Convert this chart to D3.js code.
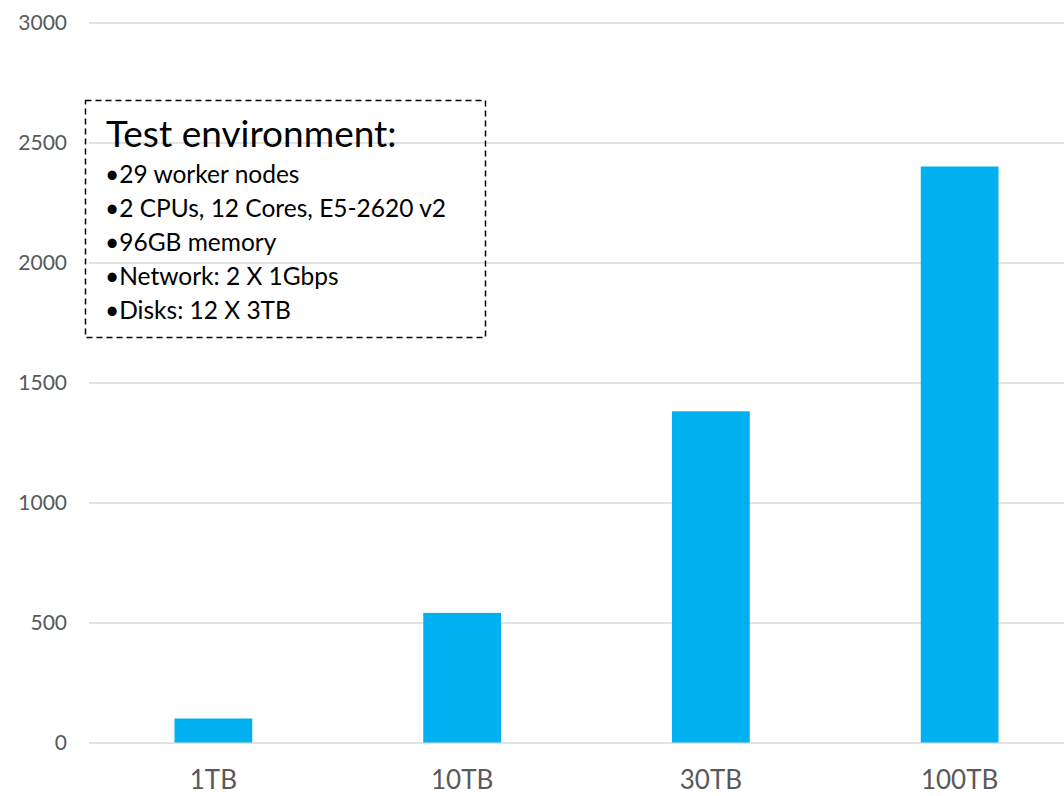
<!DOCTYPE html>
<html>
<head>
<meta charset="utf-8">
<script src="https://cdn.jsdelivr.net/npm/d3@7"></script>
<style>
  body { margin: 0; background: #fff; }
  svg { display: block; font-family: Lato, "Open Sans", sans-serif; }
</style>
</head>
<body>
<svg id="chart" width="1064" height="796"></svg>
<script>
// chart data
const categories = ["1TB", "10TB", "30TB", "100TB"];
const values = [100, 540, 1380, 2400];
const yTicks = [0, 500, 1000, 1500, 2000, 2500, 3000];
const boxTitle = "Test environment:";
const boxLines = [
    "•29 worker nodes",
    "•2 CPUs, 12 Cores, E5-2620 v2",
    "•96GB memory",
    "•Network: 2 X 1Gbps",
    "•Disks: 12 X 3TB"
];

const svg = d3.select("#chart");

// scales (plot runs a bit past the right edge, as in the original)
const x = d3.scaleBand()
    .domain(categories)
    .range([89, 1084])
    .paddingInner(0.6875)
    .paddingOuter(0.34375);

const y = d3.scaleLinear()
    .domain([0, 3000])
    .range([742.5, 22.5]);

// gridlines + y labels
const yAxis = svg.append("g")
    .attr("transform", "translate(89,0)")
    .call(d3.axisLeft(y).tickValues(yTicks).tickSize(-1000).tickPadding(22).tickFormat(d3.format("d")));
yAxis.select(".domain").remove();
yAxis.selectAll(".tick line").attr("stroke", "#d9d9d9").attr("stroke-width", 1.4);
yAxis.selectAll(".tick text")
    .attr("fill", "#595959")
    .attr("font-size", 21)
    .attr("font-family", "Lato, sans-serif");

// bars
svg.selectAll(".bar")
    .data(values)
    .enter().append("rect")
    .attr("class", "bar")
    .attr("x", (d, i) => x(categories[i]))
    .attr("y", d => y(d))
    .attr("width", x.bandwidth())
    .attr("height", d => y(0) - y(d))
    .attr("fill", "#00b0f0");

// x labels
const xAxis = svg.append("g")
    .attr("transform", `translate(0,${y(0)})`)
    .call(d3.axisBottom(x).tickSize(0).tickPadding(28));
xAxis.select(".domain").remove();
xAxis.selectAll(".tick text")
    .attr("fill", "#595959")
    .attr("font-size", 26)
    .attr("font-family", "Lato, sans-serif");

// dashed text box
const box = svg.append("g");
box.append("rect")
    .attr("x", 85.5).attr("y", 100.5)
    .attr("width", 400).attr("height", 237)
    .attr("fill", "none")
    .attr("stroke", "#000")
    .attr("stroke-width", 1.5)
    .attr("stroke-dasharray", "6,4");

box.append("text")
    .attr("x", 106).attr("y", 147)
    .attr("font-size", 37)
    .attr("fill", "#000")
    .text(boxTitle);

box.selectAll(".line")
    .data(boxLines)
    .enter().append("text")
    .attr("class", "line")
    .attr("x", 105)
    .attr("y", (d, i) => 183 + i * 34)
    .attr("font-size", 24.5)
    .attr("fill", "#000")
    .text(d => d);
</script>
</body>
</html>
